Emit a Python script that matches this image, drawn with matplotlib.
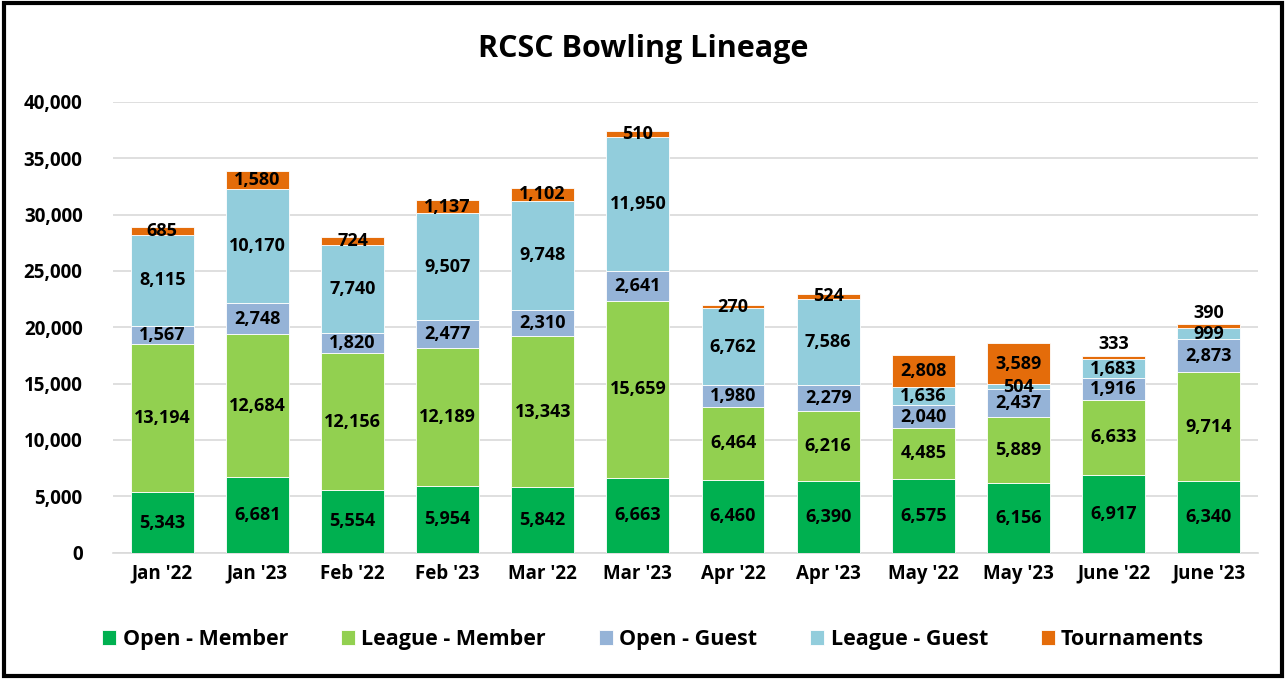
import numpy as np
import matplotlib.pyplot as plt
from matplotlib.patches import Rectangle

plt.rcParams['font.family'] = ['Open Sans', 'DejaVu Sans']
plt.rcParams['font.weight'] = 'bold'

months = ["Jan '22", "Jan '23", "Feb '22", "Feb '23", "Mar '22", "Mar '23",
          "Apr '22", "Apr '23", "May '22", "May '23", "June '22", "June '23"]

open_member = [5343, 6681, 5554, 5954, 5842, 6663, 6460, 6390, 6575, 6156, 6917, 6340]
league_member = [13194, 12684, 12156, 12189, 13343, 15659, 6464, 6216, 4485, 5889, 6633, 9714]
open_guest = [1567, 2748, 1820, 2477, 2310, 2641, 1980, 2279, 2040, 2437, 1916, 2873]
league_guest = [8115, 10170, 7740, 9507, 9748, 11950, 6762, 7586, 1636, 504, 1683, 999]
tournaments = [685, 1580, 724, 1137, 1102, 510, 270, 524, 2808, 3589, 333, 390]

series = [
    ("Open - Member", open_member, "#00B050"),
    ("League - Member", league_member, "#92D050"),
    ("Open - Guest", open_guest, "#95B3D7"),
    ("League - Guest", league_guest, "#92CDDC"),
    ("Tournaments", tournaments, "#E46C0A"),
]

# extra lift (pixels) for tournament labels that sit above the bar
tourn_lift = [0, 0, 0, 0, 0, 0, 0, 0, 0, 0, 14, 13]

fig = plt.figure(figsize=(12.86, 6.79), dpi=100)
ax = fig.add_axes([0.088, 0.186, 0.890, 0.664])

x = np.arange(len(months))
bottom = np.zeros(len(months))
handles = []
for name, vals, color in series:
    vals = np.array(vals, dtype=float)
    bars = ax.bar(x, vals, bottom=bottom, width=0.66, color=color,
                  edgecolor="white", linewidth=0.6, label=name, zorder=3)
    handles.append(bars)
    for i, v in enumerate(vals):
        yc = bottom[i] + v / 2
        dy = tourn_lift[i] if name == "Tournaments" else 0
        ax.annotate(f"{int(v):,}", (x[i], yc), xytext=(0, dy),
                    textcoords="offset pixels", ha="center", va="center",
                    fontsize=13, fontweight="bold", color="black", zorder=5)
    bottom += vals

ax.set_ylim(0, 40000)
ax.set_xlim(-0.5 - 0.015, len(months) - 0.5 + 0.015)
ax.set_yticks(np.arange(0, 40001, 5000))
ax.set_yticklabels([f"{t:,}" for t in range(0, 40001, 5000)])
ax.set_xticks(x)
ax.set_xticklabels(months)
ax.tick_params(axis="both", length=0, labelsize=13.5, pad=8)
ax.tick_params(axis="y", pad=22)
for lab in ax.get_xticklabels() + ax.get_yticklabels():
    lab.set_fontweight("bold")
ax.yaxis.grid(True, color="#D9D9D9", linewidth=1.2, zorder=0)
ax.set_axisbelow(True)
for s in ["top", "right", "left"]:
    ax.spines[s].set_visible(False)
ax.spines["bottom"].set_color("#D9D9D9")
ax.spines["bottom"].set_linewidth(1.2)

fig.text(0.5, 0.928, "RCSC Bowling Lineage", ha="center", va="center",
         fontsize=22, fontweight="bold")

fig.legend(handles=handles, loc="center", bbox_to_anchor=(0.508, 0.058), ncol=5,
           frameon=False, prop={"size": 15.5, "weight": "bold"},
           handlelength=0.65, handleheight=0.65, handletextpad=0.3,
           columnspacing=2.45)

fig.patches.append(Rectangle((0.003, 0.004), 0.994, 0.991, transform=fig.transFigure,
                             fill=False, edgecolor="black", linewidth=3))

fig.savefig("out.png", dpi=100)
